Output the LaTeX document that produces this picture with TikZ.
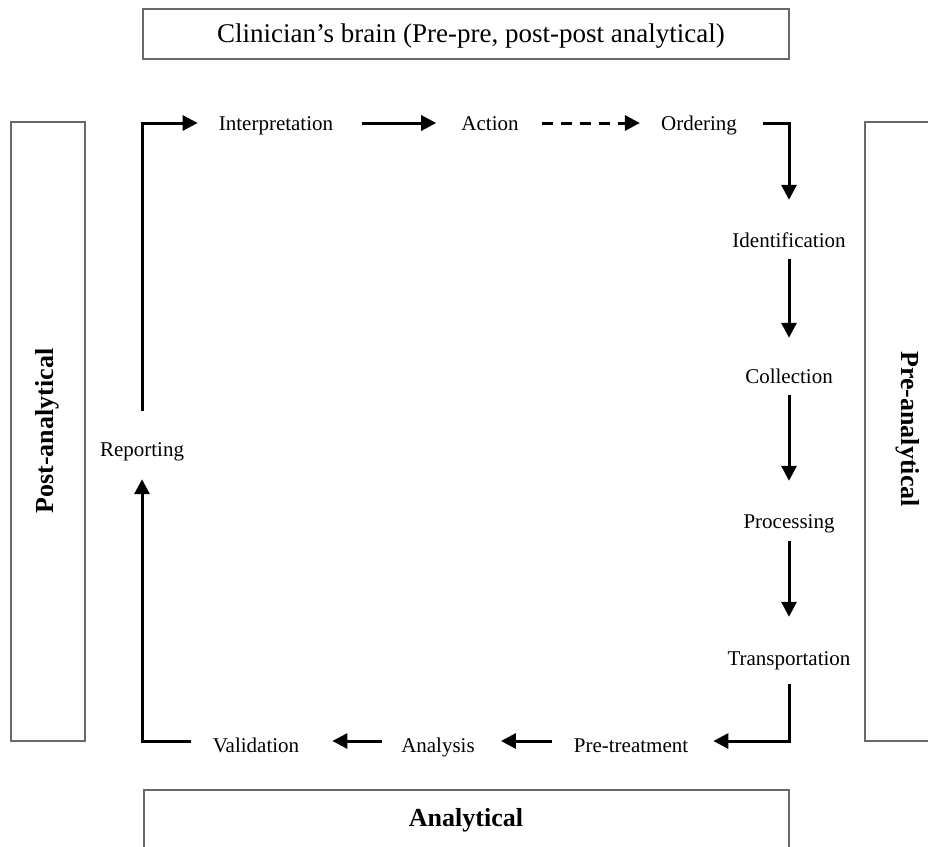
\documentclass[tikz,border=0pt]{standalone}
\usepackage{fontspec}
\setmainfont{Liberation Serif}
\usetikzlibrary{arrows.meta}
\begin{document}
\begin{tikzpicture}[x=1pt,y=-1pt,
  step label/.style={inner sep=0pt, font=\fontsize{21}{25}\selectfont, text height=14pt, text depth=0pt},
  low label/.style={step label, text height=22pt},
  phase/.style={inner sep=0pt, font=\fontsize{26}{30}\selectfont\bfseries},
  frame/.style={draw={rgb,255:red,105;green,105;blue,105}, line width=1.2pt},
  flow/.style={line width=3pt, -{Triangle[length=15pt,width=15pt]}},
  dashflow/.style={flow, dash pattern=on 11pt off 8pt},
]
\useasboundingbox (0,0) rectangle (928,846);
\clip (0,0) rectangle (928,846);

% phase frames
\draw[frame] (143,9) rectangle (789,59);
\draw[frame] (11,122) rectangle (85,741);
\draw[frame] (865,122) rectangle (960,741);
\draw[frame] (144,790) rectangle (789,880);

% phase titles
\node[inner sep=0pt, font=\fontsize{27}{31}\selectfont] (brain) at (471,36) {Clinician’s brain (Pre-pre, post-post analytical)};
\node[phase, rotate=90] (post) at (47,431) {Post-analytical};
\node[phase, rotate=-90] (pre) at (908,429) {Pre-analytical};
\node[phase] (analytical) at (466,820) {Analytical};

% steps of the cycle
\node[step label] (interp) at (276,123) {Interpretation};
\node[step label] (action) at (490,123) {Action};
\node[step label] (order)  at (699,123) {Ordering};
\node[step label] (ident)  at (789,240) {Identification};
\node[step label] (coll)   at (789,376) {Collection};
\node[step label] (proc)   at (789,521) {Processing};
\node[step label] (trans)  at (789,658) {Transportation};
\node[low label]  (pretr)  at (631,741) {Pre-treatment};
\node[low label]  (anal)   at (438,741) {Analysis};
\node[low label]  (valid)  at (256,741) {Validation};
\node[step label] (report) at (142,449) {Reporting};

% connectors
\draw[flow, shorten <=29pt, shorten >=25pt] (interp.east) -- (action.west);
\draw[dashflow, shorten <=23pt, shorten >=21pt] (action.east) -- (order.west);
\draw[flow, shorten <=26pt, shorten >=33pt] (order.east) -| (ident.north);
\draw[flow, shorten <=12pt, shorten >=31pt] (ident.south) -- (coll.north);
\draw[flow, shorten <=12pt, shorten >=33pt] (coll.south) -- (proc.north);
\draw[flow, shorten <=13pt, shorten >=34pt] (proc.south) -- (trans.north);
\draw[flow, shorten <=19pt, shorten >=25pt] (trans.south) |- (pretr.east);
\draw[flow, shorten <=22pt, shorten >=26pt] (pretr.west) -- (anal.east);
\draw[flow, shorten <=19pt, shorten >=33pt] (anal.west) -- (valid.east);
\draw[flow, shorten <=22pt, shorten >=23pt] (valid.west) -| (report.south);
\draw[flow, shorten <=31pt, shorten >=21pt] (report.north) |- (interp.west);
\end{tikzpicture}
\end{document}
